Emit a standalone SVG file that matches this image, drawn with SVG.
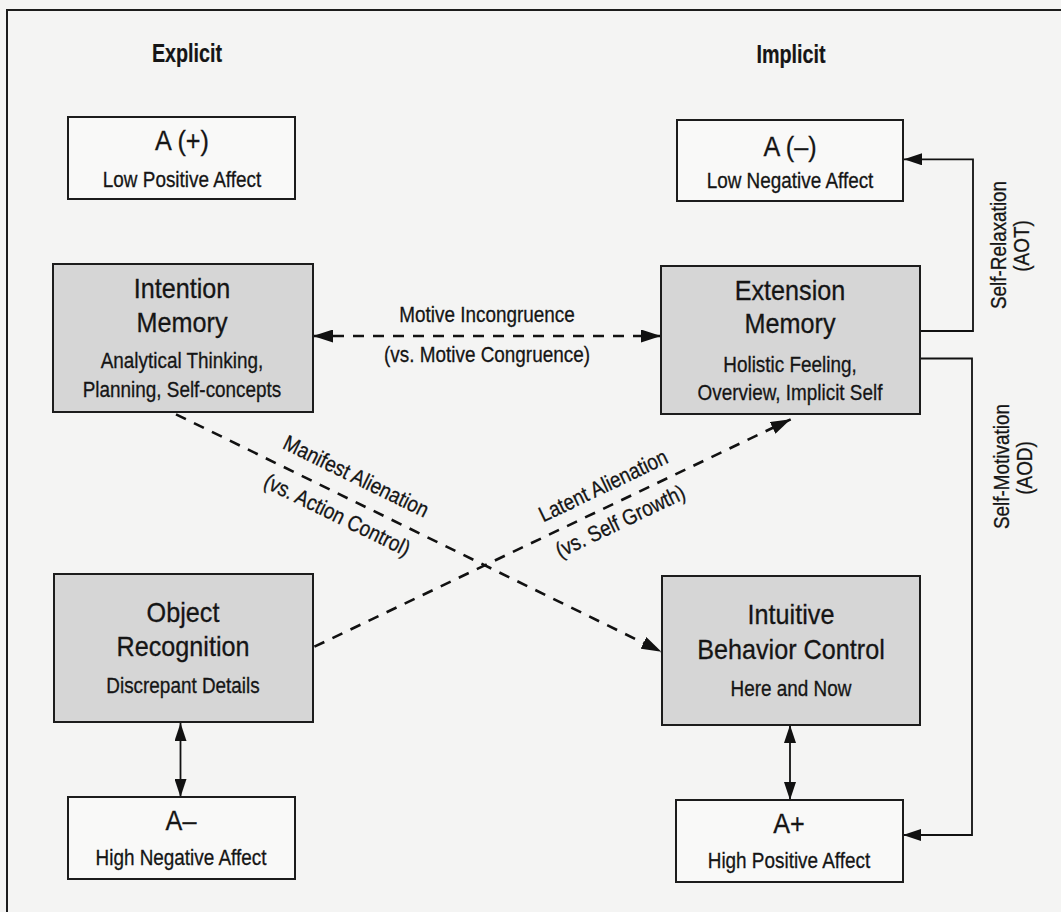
<svg xmlns="http://www.w3.org/2000/svg" width="1061" height="912" viewBox="0 0 1061 912">
<style>
text{font-family:"Liberation Sans",Arial,sans-serif;fill:#151515;stroke:#151515;stroke-width:0.3;text-anchor:middle}
.hd{font-size:25px;font-weight:bold;stroke-width:0.2}
.tt{font-size:28px}
.st{font-size:22px}
.gray{fill:#d6d6d6;stroke:#1c1c1c;stroke-width:2}
.white{fill:#f9f9f8;stroke:#1c1c1c;stroke-width:2}
.dash{fill:none;stroke:#111;stroke-width:2.6;stroke-dasharray:11 9}
.solid{fill:none;stroke:#111;stroke-width:1.8}
</style>
<defs>
<marker id="ah" viewBox="0 0 18 12" refX="18" refY="6" markerWidth="18" markerHeight="12" orient="auto-start-reverse" markerUnits="userSpaceOnUse"><path d="M0,0 L18,6 L0,12 z" fill="#111"/></marker>
<marker id="ahd" viewBox="0 0 20 13" refX="20" refY="6.5" markerWidth="20" markerHeight="13" orient="auto-start-reverse" markerUnits="userSpaceOnUse"><path d="M0,0 L20,6.5 L0,13 z" fill="#111"/></marker>
</defs>
<rect x="0" y="0" width="1061" height="912" fill="#f4f4f3"/>
<path d="M7,912 V10 H1061" fill="none" stroke="#1c1c1c" stroke-width="2"/>

<g id="headers">
<text class="hd" transform="translate(187,62) scale(0.79,1)">Explicit</text>
<text class="hd" transform="translate(791,63) scale(0.79,1)">Implicit</text>
</g>

<g id="connectors">
<line class="dash" x1="313" y1="336" x2="661" y2="336" marker-start="url(#ahd)" marker-end="url(#ahd)"/>
<line class="dash" x1="176" y1="414.3" x2="661.4" y2="651.7" marker-end="url(#ahd)"/>
<line class="dash" x1="314.4" y1="646.7" x2="790.7" y2="419.3" marker-end="url(#ahd)"/>
<line class="solid" x1="180.5" y1="723" x2="180.5" y2="797" marker-start="url(#ah)" marker-end="url(#ah)"/>
<line class="solid" x1="790" y1="725" x2="790" y2="800" marker-start="url(#ah)" marker-end="url(#ah)"/>
<polyline class="solid" points="920,331 973,331 973,159.3 904,159.3" marker-end="url(#ah)"/>
<polyline class="solid" points="920,358.5 972,358.5 972,835 903,835" marker-end="url(#ah)"/>
<g id="edge-labels">
<text class="st" transform="translate(487,322) scale(0.86,1)">Motive Incongruence</text>
<text class="st" transform="translate(487,362) scale(0.86,1)">(vs. Motive Congruence)</text>
<g transform="translate(176,414.3) rotate(26.06)">
<text class="st" transform="translate(189,-16) scale(0.86,1)">Manifest Alienation</text>
<text class="st" transform="translate(189,27) scale(0.86,1)">(vs. Action Control)</text>
</g>
<g transform="translate(314.4,646.7) rotate(-25.52)">
<text class="st" transform="translate(330,-13.5) scale(0.86,1)">Latent Alienation</text>
<text class="st" transform="translate(330,26) scale(0.86,1)">(vs. Self Growth)</text>
</g>
<text class="st" transform="translate(1006,245) rotate(-90) scale(0.86,1)">Self-Relaxation</text>
<text class="st" transform="translate(1029,246) rotate(-90) scale(0.86,1)">(AOT)</text>
<text class="st" transform="translate(1009,466.5) rotate(-90) scale(0.86,1)">Self-Motivation</text>
<text class="st" transform="translate(1032,468) rotate(-90) scale(0.86,1)">(AOD)</text>
</g>
</g>

<g id="node-a-pos-low">
<rect class="white" x="68" y="117" width="227" height="82"/>
<text class="tt" transform="translate(182,150) scale(0.9,1)">A (+)</text>
<text class="st" transform="translate(182,187) scale(0.86,1)">Low Positive Affect</text>
</g>
<g id="node-a-neg-low">
<rect class="white" x="677" y="120" width="226" height="81"/>
<text class="tt" transform="translate(790,156) scale(0.9,1)">A (–)</text>
<text class="st" transform="translate(790,188) scale(0.86,1)">Low Negative Affect</text>
</g>
<g id="node-intention-memory">
<rect class="gray" x="53" y="264" width="260" height="148"/>
<text class="tt" transform="translate(182,298) scale(0.9,1)">Intention</text>
<text class="tt" transform="translate(182,332) scale(0.9,1)">Memory</text>
<text class="st" transform="translate(182,368) scale(0.86,1)">Analytical Thinking,</text>
<text class="st" transform="translate(182,397) scale(0.86,1)">Planning, Self-concepts</text>
</g>
<g id="node-extension-memory">
<rect class="gray" x="661" y="266" width="259" height="148"/>
<text class="tt" transform="translate(790,300) scale(0.9,1)">Extension</text>
<text class="tt" transform="translate(790,333) scale(0.9,1)">Memory</text>
<text class="st" transform="translate(790,372) scale(0.86,1)">Holistic Feeling,</text>
<text class="st" transform="translate(790,400) scale(0.86,1)">Overview, Implicit Self</text>
</g>
<g id="node-object-recognition">
<rect class="gray" x="54" y="574" width="259" height="148"/>
<text class="tt" transform="translate(183,622) scale(0.9,1)">Object</text>
<text class="tt" transform="translate(183,656) scale(0.9,1)">Recognition</text>
<text class="st" transform="translate(183,693) scale(0.86,1)">Discrepant Details</text>
</g>
<g id="node-intuitive-behavior-control">
<rect class="gray" x="662" y="576" width="258" height="149"/>
<text class="tt" transform="translate(791,624) scale(0.9,1)">Intuitive</text>
<text class="tt" transform="translate(791,659) scale(0.9,1)">Behavior Control</text>
<text class="st" transform="translate(791,696) scale(0.86,1)">Here and Now</text>
</g>
<g id="node-a-neg-high">
<rect class="white" x="68" y="797" width="227" height="82"/>
<text class="tt" transform="translate(181,830) scale(0.9,1)">A–</text>
<text class="st" transform="translate(181,865) scale(0.86,1)">High Negative Affect</text>
</g>
<g id="node-a-pos-high">
<rect class="white" x="676" y="800" width="227" height="82"/>
<text class="tt" transform="translate(789,833) scale(0.9,1)">A+</text>
<text class="st" transform="translate(789,868) scale(0.86,1)">High Positive Affect</text>
</g>
</svg>
